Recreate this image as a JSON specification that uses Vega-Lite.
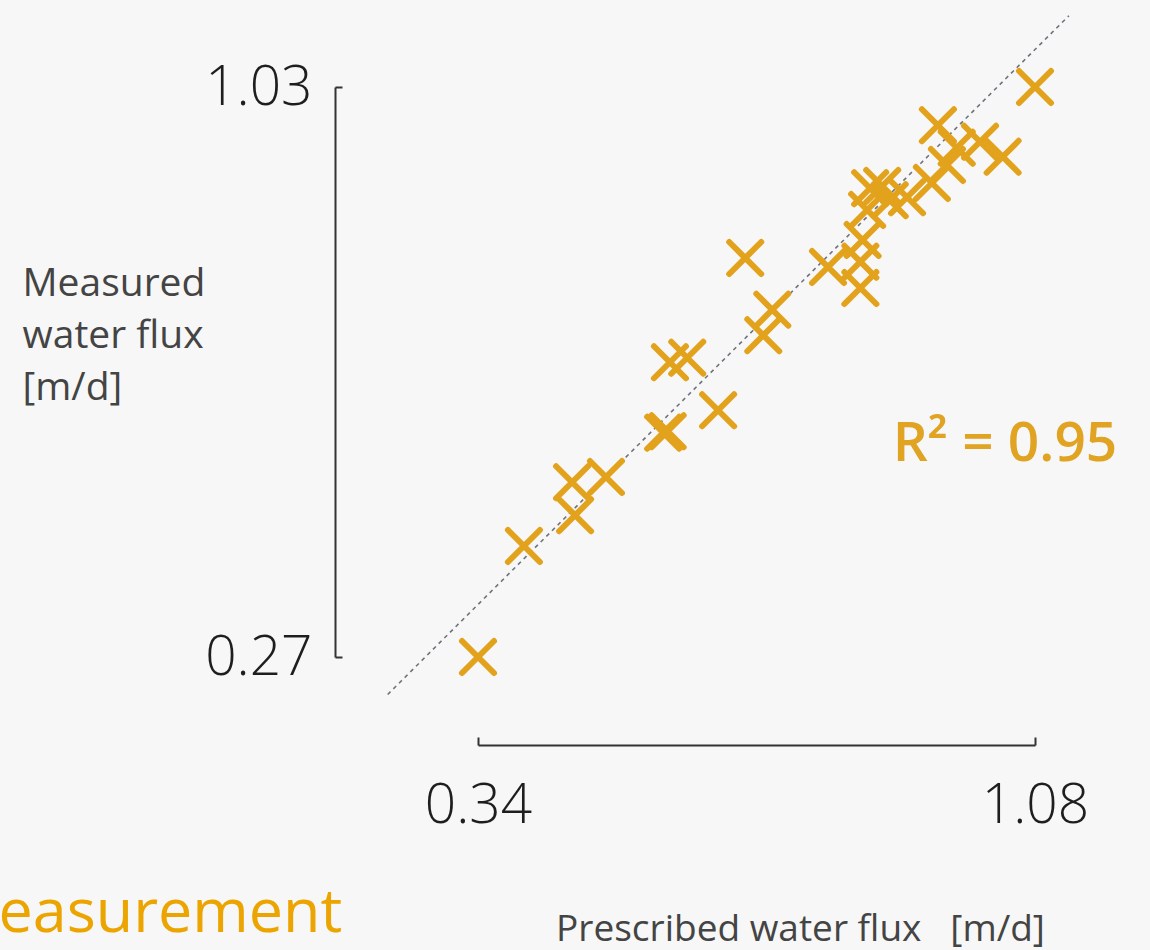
{
  "$schema": "https://vega.github.io/schema/vega-lite/v6.json",
  "width": 557,
  "height": 570,
  "autosize": {"type": "none"},
  "padding": {"left": 478, "top": 87, "right": 115, "bottom": 293},
  "background": "#f7f7f7",
  "config": {
    "view": {"stroke": null},
    "font": "Open Sans"
  },
  "datasets": {
    "flux": [
      {"prescribed": 0.34, "measured": 0.27},
      {"prescribed": 0.401, "measured": 0.418},
      {"prescribed": 0.469, "measured": 0.459},
      {"prescribed": 0.465, "measured": 0.503},
      {"prescribed": 0.51, "measured": 0.51},
      {"prescribed": 0.586, "measured": 0.569},
      {"prescribed": 0.592, "measured": 0.571},
      {"prescribed": 0.659, "measured": 0.599},
      {"prescribed": 0.595, "measured": 0.663},
      {"prescribed": 0.618, "measured": 0.669},
      {"prescribed": 0.695, "measured": 0.802},
      {"prescribed": 0.731, "measured": 0.733},
      {"prescribed": 0.719, "measured": 0.699},
      {"prescribed": 0.805, "measured": 0.79},
      {"prescribed": 0.848, "measured": 0.762},
      {"prescribed": 0.848, "measured": 0.797},
      {"prescribed": 0.851, "measured": 0.826},
      {"prescribed": 0.857, "measured": 0.866},
      {"prescribed": 0.861, "measured": 0.895},
      {"prescribed": 0.877, "measured": 0.898},
      {"prescribed": 0.887, "measured": 0.879},
      {"prescribed": 0.91, "measured": 0.883},
      {"prescribed": 0.943, "measured": 0.902},
      {"prescribed": 0.951, "measured": 0.979},
      {"prescribed": 0.976, "measured": 0.949},
      {"prescribed": 0.963, "measured": 0.926},
      {"prescribed": 1.007, "measured": 0.957},
      {"prescribed": 1.037, "measured": 0.937},
      {"prescribed": 1.08, "measured": 1.03}
    ],
    "identity": [
      {"prescribed": 0.22, "measured": 0.22},
      {"prescribed": 1.125, "measured": 1.125}
    ],
    "notes": [
      {"prescribed": 0.891, "measured": 0.532, "label": "R² = 0.95"}
    ],
    "heading": [
      {"prescribed": -0.297, "measured": -0.097, "label": "easurement"}
    ]
  },
  "layer": [
    {
      "data": {"name": "identity"},
      "mark": {"type": "line", "color": "#6f737c", "strokeWidth": 1.6, "strokeDash": [4, 4]},
      "encoding": {
        "x": {
          "field": "prescribed", "type": "quantitative",
          "scale": {"domain": [0.34, 1.08], "nice": false, "zero": false},
          "axis": {
            "title": "Prescribed water flux\u00a0\u00a0\u00a0[m/d]",
            "values": [0.34, 1.08],
            "format": ".2f",
            "offset": 88,
            "grid": false,
            "domainColor": "#333333",
            "domainWidth": 2,
            "tickColor": "#333333",
            "tickWidth": 2,
            "tickSize": -8,
            "labelFontSize": 55,
            "labelFontWeight": 300,
            "labelColor": "#1e1e1e",
            "labelPadding": 42,
            "labelFlush": false,
            "labelOverlap": false,
            "titleFontSize": 37,
            "titleFontWeight": 400,
            "titleColor": "#444444",
            "titleAnchor": "start",
            "titleAlign": "center",
            "titleBaseline": "top",
            "titleX": 322,
            "titleY": 166
          }
        },
        "y": {
          "field": "measured", "type": "quantitative",
          "scale": {"domain": [0.27, 1.03], "nice": false, "zero": false},
          "axis": {
            "title": ["Measured", "water flux", "[m/d]"],
            "values": [0.27, 1.03],
            "format": ".2f",
            "offset": 143,
            "grid": false,
            "domainColor": "#333333",
            "domainWidth": 2,
            "tickColor": "#333333",
            "tickWidth": 2,
            "tickSize": -7,
            "labelFontSize": 55,
            "labelFontWeight": 300,
            "labelColor": "#1e1e1e",
            "labelPadding": 30,
            "labelAlign": "right",
            "labelBaseline": "middle",
            "labelFlush": false,
            "labelOverlap": false,
            "titleFontSize": 39,
            "titleFontWeight": 400,
            "titleColor": "#444444",
            "titleAngle": 0,
            "titleAlign": "left",
            "titleBaseline": "top",
            "titleLineHeight": 52,
            "titleX": -313,
            "titleY": 177
          }
        }
      }
    },
    {
      "data": {"name": "flux"},
      "mark": {
        "type": "point",
        "shape": "M-1,-1L1,1M-1,1L1,-1",
        "filled": false,
        "size": 1024,
        "stroke": "#e3a21b",
        "strokeWidth": 6,
        "strokeCap": "round",
        "opacity": 1
      },
      "encoding": {
        "x": {"field": "prescribed", "type": "quantitative"},
        "y": {"field": "measured", "type": "quantitative"}
      }
    },
    {
      "data": {"name": "notes"},
      "mark": {
        "type": "text",
        "align": "left",
        "baseline": "alphabetic",
        "fontSize": 55,
        "fontWeight": 600,
        "color": "#e0a322"
      },
      "encoding": {
        "x": {"field": "prescribed", "type": "quantitative"},
        "y": {"field": "measured", "type": "quantitative"},
        "text": {"field": "label"}
      }
    },
    {
      "data": {"name": "heading"},
      "mark": {
        "type": "text",
        "align": "left",
        "baseline": "alphabetic",
        "fontSize": 61,
        "fontWeight": 400,
        "color": "#eba400"
      },
      "encoding": {
        "x": {"field": "prescribed", "type": "quantitative"},
        "y": {"field": "measured", "type": "quantitative"},
        "text": {"field": "label"}
      }
    }
  ]
}
